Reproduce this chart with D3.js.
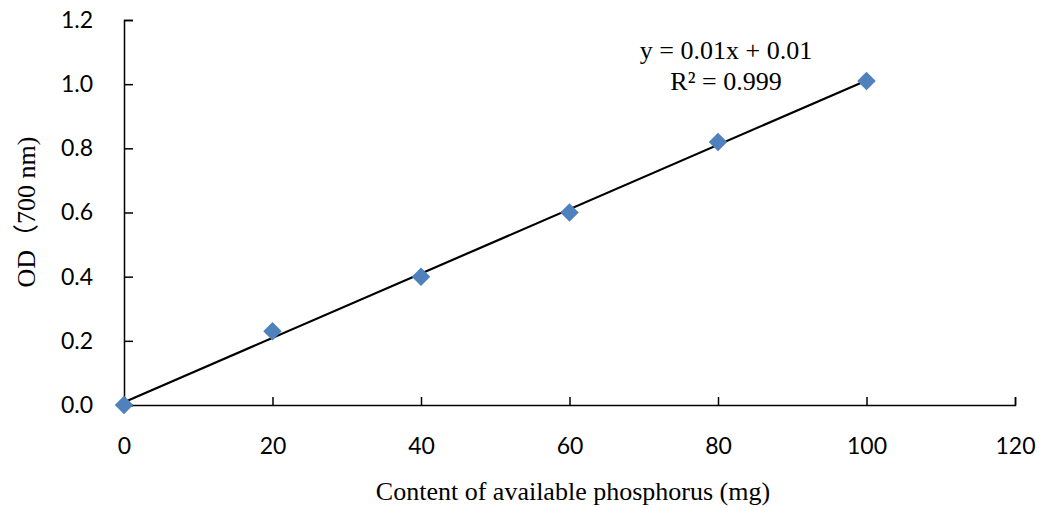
<!DOCTYPE html>
<html><head><meta charset="utf-8">
<script src="https://cdn.jsdelivr.net/npm/d3@7"></script>
<style>body{margin:0;background:#fff}</style>
</head><body>
<svg id="c" width="1048" height="508"></svg>
<script>
const xValues = [0, 20, 40, 60, 80, 100];
const odValues = [0, 0.23, 0.40, 0.60, 0.82, 1.01];
const xTicks = [0, 20, 40, 60, 80, 100, 120];
const yTicks = [0, 0.2, 0.4, 0.6, 0.8, 1.0, 1.2];
const equationLines = ["y = 0.01x + 0.01", "R² = 0.999"];
const xTitle = "Content of available phosphorus (mg)";
const yTitle = "OD（700 nm)";

const svg = d3.select("#c");
const x = d3.scaleLinear().domain([0, 120]).range([124, 1015]);
const y = d3.scaleLinear().domain([0, 1.2]).range([405, 20]);

// regression from data
const mx = d3.mean(xValues), my = d3.mean(odValues);
let sxy = 0, sxx = 0;
xValues.forEach((v, i) => { sxy += (v - mx) * (odValues[i] - my); sxx += (v - mx) ** 2; });
const slope = sxy / sxx, icpt = my - slope * mx;

const tickFont = "Lato, 'Open Sans', sans-serif";
const xAxis = svg.append("g").attr("transform", `translate(0,${y(0)})`)
  .call(d3.axisBottom(x).tickValues(xTicks).tickSize(-8).tickSizeOuter(-8).tickPadding(33).tickFormat(d3.format("d")));
const yAxis = svg.append("g").attr("transform", `translate(${x(0)},0)`)
  .call(d3.axisLeft(y).tickValues(yTicks).tickSize(-9).tickSizeOuter(-9).tickPadding(31).tickFormat(d3.format(".1f")));
[xAxis, yAxis].forEach(a => {
  a.selectAll("path,line").attr("stroke", "#000").attr("stroke-width", 1.5);
  a.selectAll("text").attr("font-family", tickFont).attr("font-size", 23).attr("fill", "#000");
});
xAxis.selectAll("text").attr("dy", "0.71em");

// trendline
const xr = d3.extent(xValues);
svg.append("line")
  .attr("x1", x(xr[0])).attr("y1", y(icpt + slope * xr[0]))
  .attr("x2", x(xr[1])).attr("y2", y(icpt + slope * xr[1]))
  .attr("stroke", "#000").attr("stroke-width", 2.2);

// markers
const diamond = d3.symbol().type(d3.symbolSquare).size(170);
svg.append("g").selectAll("path").data(xValues).join("path")
  .attr("d", diamond())
  .attr("transform", (d, i) => `translate(${x(d)},${y(odValues[i])}) rotate(45)`)
  .attr("fill", "#4F81BD");

// equation
svg.append("g").selectAll("text").data(equationLines).join("text")
  .attr("x", 726).attr("y", (d, i) => 59 + i * 31)
  .attr("text-anchor", "middle")
  .attr("font-family", "'Liberation Serif', 'Times New Roman', serif")
  .attr("font-size", 26).attr("fill", "#000").text(d => d);

// titles
svg.append("text").attr("x", 573).attr("y", 500).attr("text-anchor", "middle")
  .attr("font-family", "'Liberation Serif', 'Times New Roman', serif")
  .attr("font-size", 26).attr("fill", "#000").text(xTitle);
svg.append("text").attr("transform", "translate(35,212) rotate(-90)").attr("text-anchor", "middle")
  .attr("font-family", "'Liberation Serif', 'Noto Sans CJK SC', serif")
  .attr("font-size", 26).attr("fill", "#000").text(yTitle);
</script>
</body></html>
